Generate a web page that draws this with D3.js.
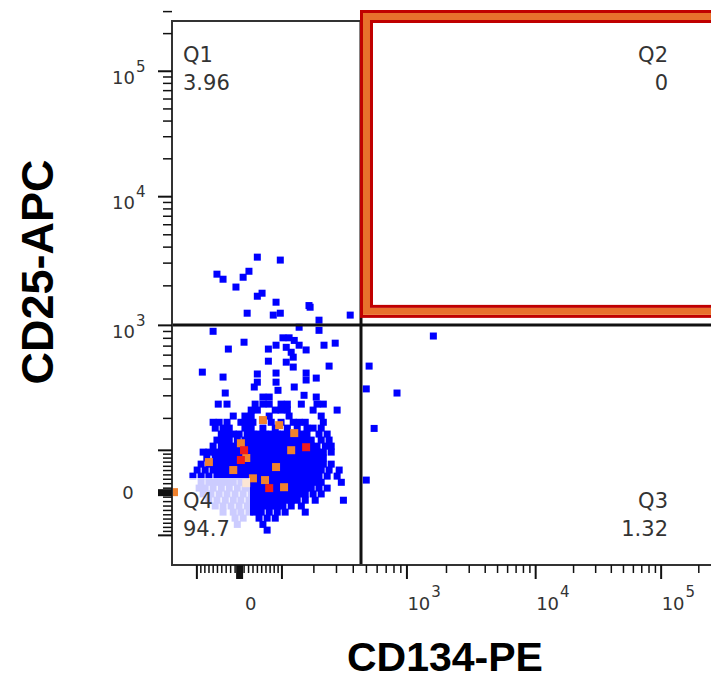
<!DOCTYPE html>
<html>
<head>
<meta charset="utf-8">
<script src="https://cdn.jsdelivr.net/npm/d3@7"></script>
<style>
  body { margin: 0; background: #fff; }
  svg { display: block; }
</style>
</head>
<body>
<svg id="chart" width="711" height="680"></svg>
<script>
// Events as [CD134-PE, CD25-APC] intensities
const sparseEvents = [
  [41, 3310], [97, 3140], [-50, 2440], [-36, 2230], [9, 2310], [22, 2570], [-7, 1940],
  [41, 1650], [52, 1740], [86, 1485], [184, 1400], [188, 1360], [18, 1225], [79, 1185],
  [97, 1225], [383, 1185], [222, 1085],
  [151, 960], [222, 910], [-59, 895], [1600, 825], [11, 742], [-24, 660], [104, 800],
  [121, 800], [136, 765], [86, 705], [67, 660], [113, 680], [151, 705], [174, 650],
  [127, 625], [133, 575], [243, 705], [296, 730], [67, 537], [113, 528], [133, 486],
  [266, 494], [528, 494], [-85, 446], [-36, 410], [41, 432], [86, 439], [174, 439],
  [174, 390], [211, 403], [41, 376], [86, 376], [34, 346], [136, 346], [-31, 312],
  [91, 327], [503, 335], [850, 312], [167, 300], [211, 291], [54, 291], [69, 291],
  [575, 163], [503, 27]
];

// dense part of the population, one CD25 level per row with its CD134 values
const coreCD25 = [257, 231, 207, 184, 164, 145, 127, 110, 94, 79, 64, 50, 36, 22, 9, -4, -18, -31, -45, -59, -74, -88];
const coreCD134 = [
  [-47, -27, 36, 54, 69, 99, 116, 158, 214, 240],
  [27, 41, 84, 99, 116, 199, 306],
  [-13, 13, 27, 69, 121, 231],
  [-59, -45, -27, 4, 18, 31, 74, 99, 133, 151, 171, 240],
  [-54, -36, -22, 13, 27, 54, 84, 116, 145, 177, 199, 231],
  [-40, -27, -13, 0, 18, 31, 45, 59, 74, 89, 104, 121, 139, 158, 177, 222, 257],
  [-50, -36, -22, -4, 13, 27, 41, 54, 69, 84, 99, 116, 133, 151, 171, 192, 231, 266],
  [-59, -40, -27, -13, 0, 13, 27, 41, 54, 69, 84, 99, 116, 133, 151, 171, 192, 214, 249, 276],
  [-83, -69, -54, -40, -27, -13, 0, 13, 27, 41, 54, 69, 84, 99, 116, 133, 151, 171, 192, 214, 240, 276],
  [-74, -54, -40, -27, -13, 0, 13, 27, 41, 54, 69, 84, 99, 116, 133, 151, 171, 192, 214, 240],
  [-88, -69, -54, -40, -27, -13, 0, 13, 27, 41, 54, 69, 84, 99, 116, 133, 151, 171, 192, 214, 240, 276],
  [-98, -78, -59, -45, -31, -18, -4, 9, 22, 36, 50, 64, 79, 94, 110, 127, 145, 164, 184, 207, 231, 266, 317],
  [-109, -88, -69, -50, -36, -22, -9, 4, 18, 31, 45, 59, 74, 89, 104, 121, 139, 158, 177, 199, 222, 257, 306],
  [-88, -69, -54, -40, -27, -13, 4, 22, 36, 50, 64, 79, 94, 110, 127, 145, 164, 184, 207, 231, 329],
  [-93, -78, -59, -40, -22, -4, 13, 27, 41, 54, 69, 84, 99, 116, 133, 151, 171, 192, 222, 257],
  [-83, -64, -45, -27, -9, 9, 27, 41, 54, 69, 84, 99, 116, 133, 151, 171, 199, 231],
  [-69, -50, -31, -13, 4, 22, 36, 50, 64, 79, 94, 110, 127, 145, 171, 207, 341],
  [-54, -36, -18, 0, 18, 31, 45, 59, 74, 89, 104, 127, 158],
  [-36, -13, 4, 22, 36, 50, 69, 89, 110, 171],
  [-9, 9, 45, 64, 84],
  [-4, 54],
  [64]
];

const orangeEvents = [
  [54, 192], [94, 174], [136, 148], [4, 118], [16, 79], [-69, 69], [-13, 50], [86, 57],
  [127, 99], [31, 31], [59, 27], [107, 11], [16, 20], [-162, 0]
];
const redEvents = [[11, 99], [4, 74], [174, 107], [69, 9]];

const quadNames = ['Q1', 'Q2', 'Q3', 'Q4'];
const quadPercents = ['3.96', '0', '1.32', '94.7'];
const gateCD134 = 460;
const gateCD25 = 1000;

const majorTicks = [-100, 0, 100, 1e3, 1e4, 1e5];
const xTickLabels = [[0, '0', ''], [1e3, '10', '3'], [1e4, '10', '4'], [1e5, '10', '5']];
const yTickLabels = [[0, '0', ''], [1e3, '10', '3'], [1e4, '10', '4'], [1e5, '10', '5']];

// biexponential (logicle-like) display transform
const K = 42.4, P = 1.85;
function biex(y) {
  return K * (Math.pow(10, y) - P * P * Math.pow(10, -y / P) + P * P - 1);
}
function toDisplay(v) {
  let lo = -3, hi = 7;
  for (let i = 0; i < 60; i++) {
    const mid = (lo + hi) / 2;
    if (biex(mid) < v) lo = mid; else hi = mid;
  }
  return (lo + hi) / 2;
}

const plotLeft = 172, plotRight = 713, plotTop = 21, plotBottom = 565;
const xLin = d3.scaleLinear().domain([toDisplay(-168), toDisplay(262144)]).range([plotLeft, plotRight]);
const yLin = d3.scaleLinear().domain([toDisplay(-186), toDisplay(250000)]).range([plotBottom, plotTop]);
const x = v => xLin(toDisplay(v));
const y = v => yLin(toDisplay(v));

// minor ticks between the labelled ones
const minorTicks = [];
for (let k = 1; k <= 9; k++) { minorTicks.push(k * 10, -k * 10); }
[100, 1000, 10000, 100000].forEach(d => {
  for (let k = 2; k <= 9; k++) minorTicks.push(k * d);
});

const svg = d3.select('#chart');

svg.append('clipPath').attr('id', 'plot-clip')
  .append('rect')
  .attr('x', plotLeft).attr('y', plotTop)
  .attr('width', plotRight - plotLeft).attr('height', plotBottom - plotTop);

// Dots
const dots = svg.append('g').attr('clip-path', 'url(#plot-clip)');
const coreEvents = [];
coreCD25.forEach((cd25, i) => coreCD134[i].forEach(cd134 => coreEvents.push([cd134, cd25])));

function drawDots(data, size, color) {
  dots.append('g').selectAll('rect')
    .data(data)
    .enter()
    .append('rect')
    .attr('x', d => x(d[0]) - size / 2)
    .attr('y', d => y(d[1]) - size / 2)
    .attr('width', size)
    .attr('height', size)
    .attr('fill', color);
}
drawDots(sparseEvents, 7, '#0000ff');
drawDots(coreEvents, 7, '#0000ff');
drawDots(orangeEvents, 8, '#f0822e');
drawDots(redEvents, 8, '#f01c1c');

// Quadrant labels with translucent backing
const labelFont = '"DejaVu Sans", sans-serif';
const labelSpots = [
  { x: plotLeft + 11, y: plotTop + 41, anchor: 'start' },
  { x: plotRight - 45, y: plotTop + 41, anchor: 'end' },
  { x: plotRight - 45, y: plotBottom - 57, anchor: 'end' },
  { x: plotLeft + 11, y: plotBottom - 57, anchor: 'start' }
];
quadNames.forEach((name, i) => {
  const s = labelSpots[i];
  const bx = s.anchor === 'start' ? s.x - 3 : s.x - 70;
  svg.append('rect')
    .attr('x', bx).attr('y', s.y - 30)
    .attr('width', 70).attr('height', 64)
    .attr('fill', '#fff').attr('fill-opacity', 0.8);
  const t = svg.append('text')
    .attr('font-family', labelFont)
    .attr('font-size', 21)
    .attr('fill', '#333')
    .attr('text-anchor', s.anchor);
  t.append('tspan').attr('x', s.x).attr('y', s.y).text(name);
  t.append('tspan').attr('x', s.x).attr('y', s.y + 28).text(quadPercents[i]);
});

// Quadrant lines
const qx = x(gateCD134), qy = y(gateCD25);
svg.append('line')
  .attr('x1', plotLeft).attr('x2', plotRight).attr('y1', qy).attr('y2', qy)
  .attr('stroke', '#111').attr('stroke-width', 3);
svg.append('line')
  .attr('x1', qx).attr('x2', qx).attr('y1', plotTop).attr('y2', plotBottom)
  .attr('stroke', '#111').attr('stroke-width', 3);

// Frame
svg.append('rect')
  .attr('x', plotLeft).attr('y', plotTop)
  .attr('width', plotRight - plotLeft).attr('height', plotBottom - plotTop)
  .attr('fill', 'none').attr('stroke', '#333').attr('stroke-width', 2);

// Axes (ticks only; labels added below)
function tickAxis(axis, values, size, width) {
  const g = svg.append('g').call(axis.tickValues(values.map(toDisplay)).tickSize(size).tickSizeOuter(0).tickFormat(''));
  g.select('.domain').remove();
  g.selectAll('.tick line').attr('stroke', '#111').attr('stroke-width', width);
  return g;
}
tickAxis(d3.axisBottom(xLin), minorTicks, 8, 1.5).attr('transform', `translate(0,${plotBottom})`);
tickAxis(d3.axisBottom(xLin), majorTicks, 14, 2).attr('transform', `translate(0,${plotBottom})`);
tickAxis(d3.axisBottom(xLin), [0], 14, 7).attr('transform', `translate(0,${plotBottom})`);
tickAxis(d3.axisLeft(yLin), minorTicks, 9, 1.5).attr('transform', `translate(${plotLeft},0)`);
tickAxis(d3.axisLeft(yLin), majorTicks, 14, 2).attr('transform', `translate(${plotLeft},0)`);
tickAxis(d3.axisLeft(yLin), [0], 14, 7).attr('transform', `translate(${plotLeft},0)`);

const tickFont = '"DejaVu Sans", sans-serif';
xTickLabels.forEach(([v, base, exp]) => {
  const t = svg.append('text')
    .attr('font-family', tickFont).attr('fill', '#333')
    .attr('x', x(v) + (exp ? 1 : 6)).attr('y', 610)
    .attr('font-size', 18);
  t.append('tspan').text(base);
  if (exp) t.append('tspan').attr('dy', -13).attr('font-size', 15).attr('dx', 1).text(exp);
});
yTickLabels.forEach(([v, base, exp]) => {
  const t = svg.append('text')
    .attr('font-family', tickFont).attr('fill', '#333')
    .attr('font-size', 18);
  if (exp) {
    t.attr('x', 112).attr('y', y(v) + 13);
    t.append('tspan').text(base);
    t.append('tspan').attr('dy', -12).attr('font-size', 15).attr('dx', 1).text(exp);
  } else {
    t.attr('x', 128).attr('y', y(v) + 7).attr('text-anchor', 'middle').text(base);
  }
});

// Q2 gate
const gx = qx - 1, gy = plotTop - 11, gw = 725 - gx, gh = qy - 7 - gy;
[[1.5, 3, '#c00000'], [6.5, 7, '#e8702c'], [11.5, 3, '#c00000']].forEach(([inset, w, c]) => {
  svg.append('rect')
    .attr('x', gx + inset).attr('y', gy + inset)
    .attr('width', gw - 2 * inset).attr('height', gh - 2 * inset)
    .attr('fill', 'none').attr('stroke', c).attr('stroke-width', w);
});

// Axis titles
svg.append('text')
  .attr('x', 445).attr('y', 671)
  .attr('text-anchor', 'middle')
  .attr('font-family', '"Liberation Sans", Arial, sans-serif')
  .attr('font-weight', 'bold').attr('font-size', 41)
  .text('CD134-PE');
svg.append('text')
  .attr('transform', 'translate(53,272) rotate(-90)')
  .attr('text-anchor', 'middle')
  .attr('font-family', '"Liberation Sans", Arial, sans-serif')
  .attr('font-weight', 'bold').attr('font-size', 45)
  .text('CD25-APC');
</script>
</body>
</html>
